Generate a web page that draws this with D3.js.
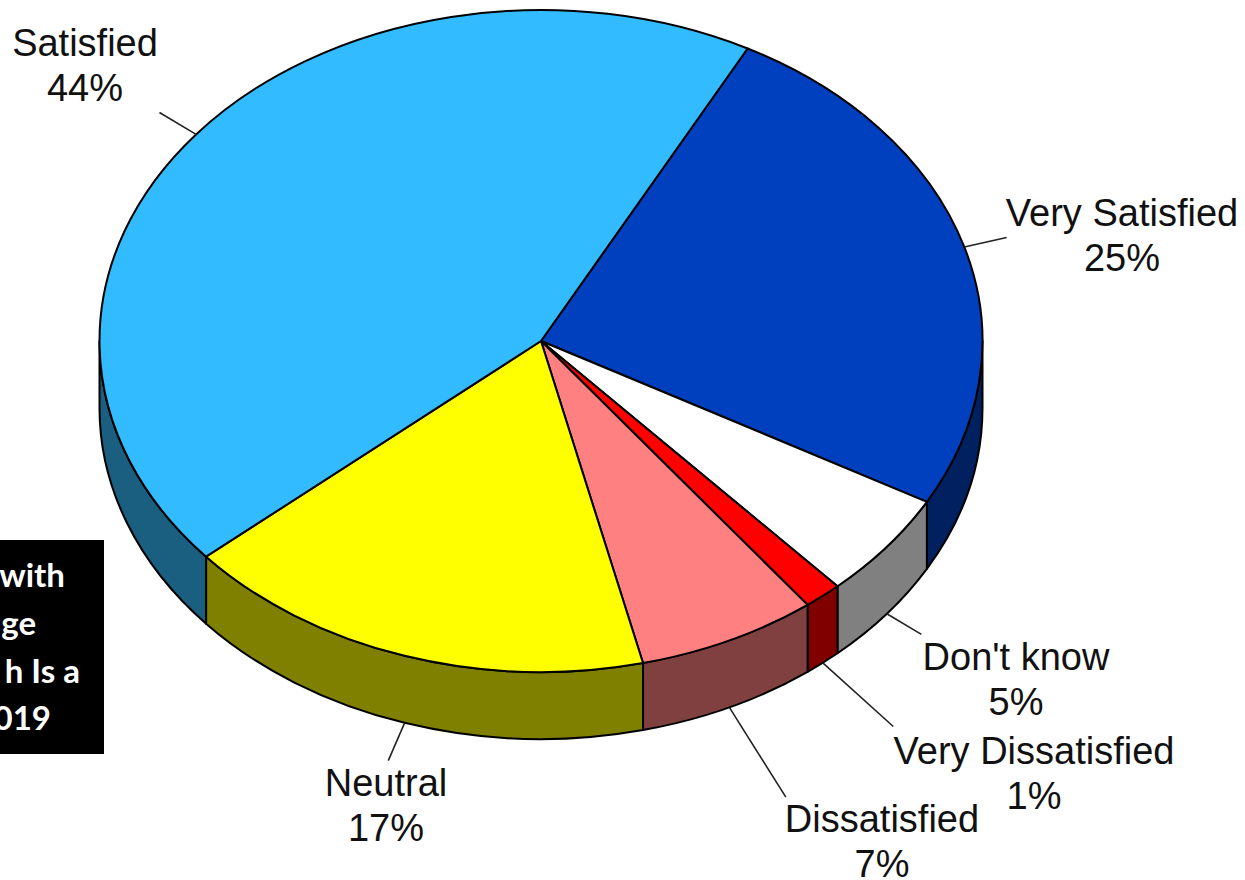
<!DOCTYPE html>
<html><head><meta charset="utf-8">
<script src="https://cdnjs.cloudflare.com/ajax/libs/d3/7.8.5/d3.min.js"></script>
<style>html,body{margin:0;padding:0;background:#fff;overflow:hidden}svg{display:block}</style>
</head><body>
<svg id="c" width="1245" height="880"></svg>
<script>
const categories = ["Very Satisfied","Don't know","Very Dissatisfied","Dissatisfied","Neutral","Satisfied"];
const values = [25.3,5.2,1.4,6.6,17.4,44.0];
const percentLabels = ["25%","5%","1%","7%","17%","44%"];
const topColors = ["#0040BF","#FFFFFF","#FF0000","#FF8080","#FFFF00","#33BBFF"];
const sideColors = ["#002060","#808080","#800000","#804040","#808000","#1A5E80"];
const leaderReach = [1.1,1.1,1.25,1.3,1.12,1.106];
const labelX = [1122,1016,1034,882,386,85];
const labelY = [226,670,764,832,796,56];
const boxLines = [["with",65,587],["ge",36,635],["h Is a",80,683],["019",51,730]];

const cx=541, cy=341, rx=441.5, ry=331, depth=67, startDeg=27.9;
const svg=d3.select("#c");
const TAU=2*Math.PI;
const arcs=d3.pie().sort(null).value(d=>d)
  .startAngle(startDeg*Math.PI/180).endAngle(startDeg*Math.PI/180+TAU)(values);
const px=(a,f=1)=>cx+rx*f*Math.sin(a), py=(a,f=1)=>cy-ry*f*Math.cos(a);

// side walls: visible only for the front half of the ellipse
const front=[Math.PI/2,3*Math.PI/2];
const wall=(a0,a1)=>`M${px(a0)},${py(a0)}A${rx},${ry} 0 0 1 ${px(a1)},${py(a1)}L${px(a1)},${py(a1)+depth}A${rx},${ry} 0 0 0 ${px(a0)},${py(a0)+depth}Z`;
const walls=[];
arcs.forEach((d,i)=>{
  [0,TAU].forEach(off=>{
    const a0=Math.max(d.startAngle-off,front[0]), a1=Math.min(d.endAngle-off,front[1]);
    if(a1>a0) walls.push({a0,a1,i});
  });
});
svg.append("g").selectAll("path").data(walls).join("path")
  .attr("d",d=>wall(d.a0,d.a1)).attr("fill",d=>sideColors[d.i])
  .attr("stroke","#000").attr("stroke-width",2).attr("stroke-linejoin","round");

// top face
const arc=d3.arc().innerRadius(0).outerRadius(rx);
svg.append("g").attr("transform",`translate(${cx},${cy}) scale(1,${ry/rx})`)
  .selectAll("path").data(arcs).join("path")
  .attr("d",arc).attr("fill",(d,i)=>topColors[i])
  .attr("stroke","#000").attr("stroke-width",2).attr("stroke-linejoin","round")
  .attr("vector-effect","non-scaling-stroke");

// leader lines
const isFront=a=>{const m=((a%TAU)+TAU)%TAU;return m>front[0]&&m<front[1];};
svg.append("g").selectAll("line").data(arcs).join("line")
  .each(function(d,i){
    const m=(d.startAngle+d.endAngle)/2, dz=isFront(m)?depth:0;
    d3.select(this).attr("x1",px(m)).attr("y1",py(m)+dz)
      .attr("x2",px(m,leaderReach[i])).attr("y2",py(m,leaderReach[i])+dz);
  }).attr("stroke","#222").attr("stroke-width",1.6);

// labels
const lab=svg.append("g").attr("font-family","'Liberation Sans',Arial,sans-serif")
  .attr("font-size",38).attr("fill","#111").attr("text-anchor","middle");
categories.forEach((c,i)=>{
  lab.append("text").attr("x",labelX[i]).attr("y",labelY[i]).text(c);
  lab.append("text").attr("x",labelX[i]).attr("y",labelY[i]+45).text(percentLabels[i]);
});

// black caption box, cropped at the left edge
svg.append("rect").attr("x",0).attr("y",540).attr("width",104).attr("height",214).attr("fill","#000");
svg.append("g").attr("font-family","Lato,sans-serif").attr("font-weight",700).attr("font-size",33)
  .attr("fill","#fff").attr("text-anchor","end")
  .selectAll("text").data(boxLines).join("text")
  .attr("x",d=>d[1]).attr("y",d=>d[2]).text(d=>d[0]);
</script>
</body></html>
